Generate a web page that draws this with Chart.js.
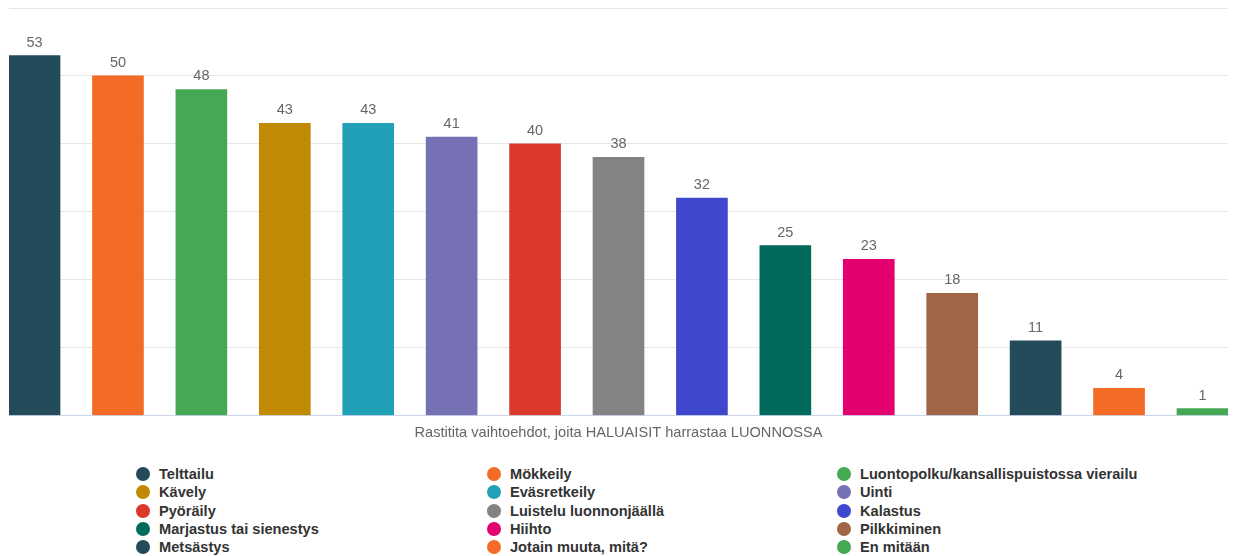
<!DOCTYPE html>
<html>
<head>
<meta charset="utf-8">
<script src="https://cdn.jsdelivr.net/npm/chart.js@4/dist/chart.umd.min.js"></script>
<style>
  html, body { margin: 0; padding: 0; background: #fff; }
  #wrap { position: relative; width: 1233px; height: 556px; font-family: Arial, "Liberation Sans", sans-serif; }
  #chartBox { position: absolute; left: 0; top: 0; width: 1233px; height: 446px; }
  #legend { position: absolute; left: 0; top: 465px; width: 1233px; }
  .item { position: absolute; height: 18px; font-weight: bold; font-size: 14.6px; color: #333; white-space: nowrap; line-height: 18px; }
  .dot { position: absolute; left: -23px; top: 2px; width: 14px; height: 14px; border-radius: 50%; }
</style>
</head>
<body>
<div id="wrap">
  <div id="chartBox"><canvas id="myChart"></canvas></div>
  <div id="legend"></div>
</div>
<script>
const categories = ["Telttailu", "Mökkeily", "Luontopolku/kansallispuistossa vierailu", "Kävely", "Eväsretkeily",
  "Uinti", "Pyöräily", "Luistelu luonnonjäällä", "Kalastus", "Marjastus tai sienestys", "Hiihto",
  "Pilkkiminen", "Metsästys", "Jotain muuta, mitä?", "En mitään"];
const answers = [53, 50, 48, 43, 43, 41, 40, 38, 32, 25, 23, 18, 11, 4, 1];
const barColors = ["#234B5A", "#F36B25", "#45A853", "#C08A02", "#22A0B7", "#7671B4", "#DA392C",
  "#838384", "#3F48CC", "#016B5B", "#E3006F", "#A06645", "#234B5A", "#F36B25", "#45A853"];
const axisTitle = "Rastitita vaihtoehdot, joita HALUAISIT harrastaa LUONNOSSA";

// value labels above each bar
const valueLabels = {
  id: "valueLabels",
  afterDatasetsDraw(chart) {
    const ctx = chart.ctx;
    const meta = chart.getDatasetMeta(0);
    ctx.save();
    ctx.font = "14.5px Arial, 'Liberation Sans', sans-serif";
    ctx.fillStyle = "#666";
    ctx.textAlign = "center";
    ctx.textBaseline = "alphabetic";
    meta.data.forEach((bar, i) => {
      ctx.fillText(answers[i], bar.x, bar.y - 9);
    });
    ctx.restore();
  }
};

function renderChart() {
  const ctx = document.getElementById("myChart").getContext("2d");
  new Chart(ctx, {
    type: "bar",
    data: {
      datasets: [{
        label: axisTitle,
        data: answers.map((v, i) => ({ x: i, y: v })),
        backgroundColor: barColors,
        borderWidth: 0,
        barThickness: 51
      }]
    },
    options: {
      responsive: true,
      maintainAspectRatio: false,
      animation: false,
      layout: { padding: { left: 9, right: 5, top: 8, bottom: 0 } },
      plugins: {
        legend: { display: false },
        tooltip: { enabled: false }
      },
      scales: {
        x: {
          type: "linear",
          offset: false,
          bounds: "data",
          min: -0.306,
          max: categories.length - 1 + 0.306,
          ticks: { display: false, stepSize: 1, includeBounds: false },
          grid: { display: false, drawTicks: false },
          border: { display: true, color: "#ccd6eb" },
          title: {
            display: true,
            text: axisTitle,
            color: "#666",
            font: { family: "Arial, 'Liberation Sans', sans-serif", size: 14.6 },
            padding: { top: 9, bottom: 4 }
          }
        },
        y: {
          min: 0,
          max: 60,
          ticks: { display: false, stepSize: 10 },
          grid: { color: "#e6e6e6", drawTicks: false },
          border: { display: false }
        }
      }
    },
    plugins: [valueLabels]
  });
}

function renderLegend() {
  const legend = document.getElementById("legend");
  const colX = [159, 510, 860];
  categories.forEach((name, i) => {
    const item = document.createElement("div");
    item.className = "item";
    item.style.left = colX[i % 3] + "px";
    item.style.top = (Math.floor(i / 3) * 18.3) + "px";
    const dot = document.createElement("span");
    dot.className = "dot";
    dot.style.background = barColors[i];
    item.appendChild(dot);
    item.appendChild(document.createTextNode(name));
    legend.appendChild(item);
  });
}

renderChart();
renderLegend();
</script>
</body>
</html>
